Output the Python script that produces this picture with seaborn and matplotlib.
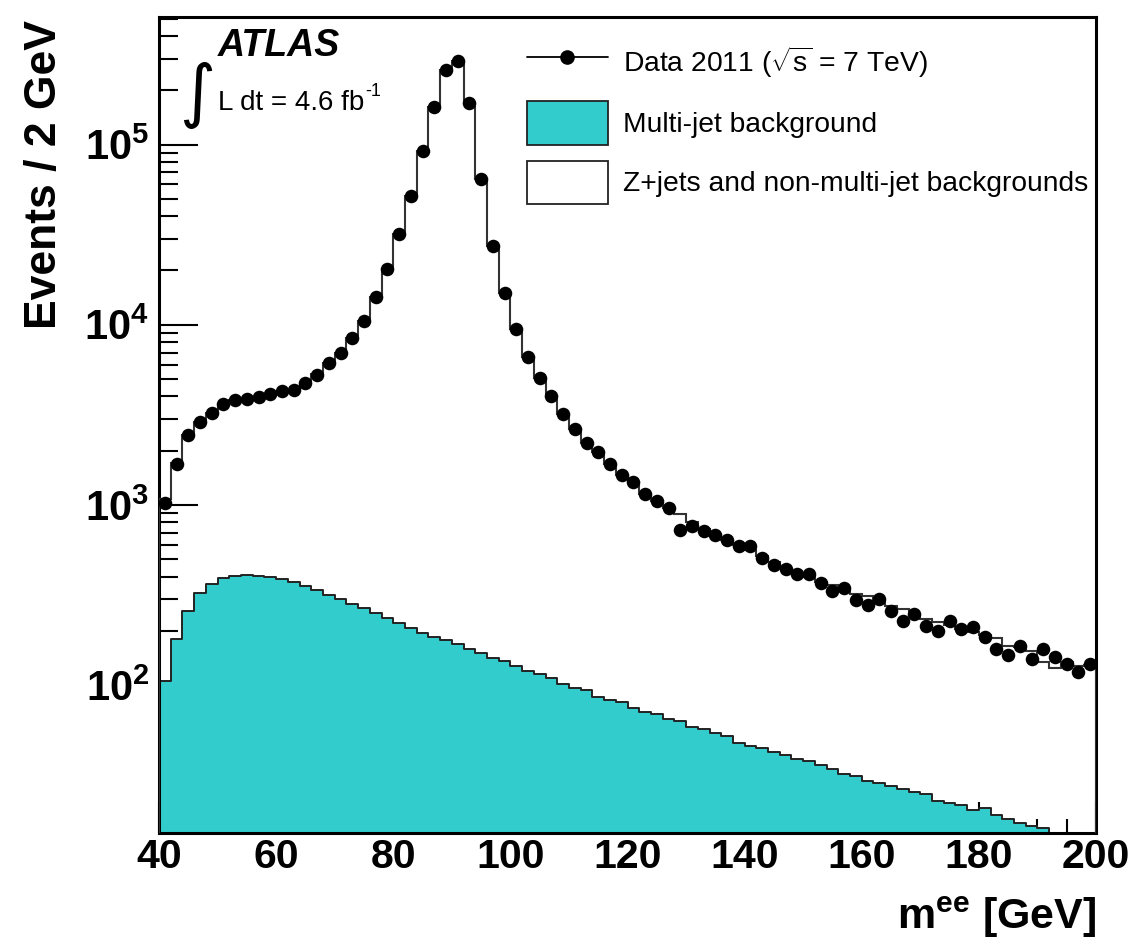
import numpy as np
import pandas as pd
import matplotlib
matplotlib.use("Agg")
import matplotlib.pyplot as plt
import seaborn as sns
from matplotlib.lines import Line2D
from matplotlib.patches import Patch
from matplotlib.ticker import MultipleLocator, LogLocator, FuncFormatter, NullFormatter

# 2 GeV bins from 40 to 200 GeV
bin_edges = np.arange(40, 202, 2)
mass = (bin_edges[:-1] + bin_edges[1:]) / 2

data_2011 = [
    1020, 1680, 2430, 2900, 3250, 3620, 3810, 3860, 3980, 4110,
    4270, 4330, 4780, 5290, 6100, 6930, 8400, 10500, 14200, 20300,
    32000, 52000, 91800, 162000, 259000, 290000, 169000, 64400, 27200, 15000,
    9420, 6640, 5040, 4010, 3210, 2650, 2200, 1960, 1690, 1460,
    1340, 1150, 1050, 964, 728, 768, 720, 684, 639, 589,
    589, 508, 464, 440, 412, 412, 368, 334, 346, 297,
    278, 301, 259, 228, 249, 214, 201, 228, 206, 210,
    186, 158, 147, 164, 140, 159, 144, 131, 119, 131,
]

mc_total = [
    1080, 1700, 2450, 2900, 3250, 3600, 3800, 3880, 3980, 4100,
    4250, 4350, 4750, 5300, 6100, 6950, 8400, 10500, 14200, 20300,
    32000, 52000, 91800, 162000, 259000, 290000, 169000, 64400, 27200, 15000,
    9420, 6640, 5040, 4010, 3210, 2650, 2200, 1960, 1690, 1460,
    1340, 1150, 1050, 964, 889, 800, 740, 690, 640, 600,
    565, 520, 480, 445, 420, 400, 375, 361, 340, 320,
    311, 290, 275, 265, 245, 232, 224, 215, 205, 197,
    190, 182, 166, 162, 155, 134, 125, 134, 128, 130,
]

multijet = [
    106, 180, 258, 323, 364, 391, 405, 410, 405, 400,
    386, 376, 356, 337, 317, 300, 284, 268, 250, 237,
    222, 209, 196, 186, 178, 169, 159, 150, 142, 136,
    128, 120, 115, 109, 102, 96, 93.5, 86, 82.3, 80.8,
    74.3, 71.2, 68.8, 65.3, 63.1, 58.5, 57.3, 54.4, 52.2, 47.9,
    45.9, 44.9, 42.7, 41.2, 39.2, 37.9, 36.3, 34.1, 32.2, 31.3,
    29.4, 28.7, 27.5, 26.7, 25.6, 24.9, 22.9, 22.2, 21.6, 20.2,
    20.7, 19.1, 18.0, 17.2, 16.5, 16.1, 14, 13, 12, 11,
]

df = pd.DataFrame({"mass": mass, "data": data_2011, "mc": mc_total, "multijet": multijet})

sns.set_theme(style="white")
plt.rcParams["font.family"] = ["Liberation Sans", "DejaVu Sans"]
plt.rcParams["mathtext.fontset"] = "custom"
plt.rcParams["mathtext.rm"] = "Liberation Sans"
plt.rcParams["mathtext.it"] = "Liberation Sans:italic"
plt.rcParams["mathtext.bf"] = "Liberation Sans:bold"
plt.rcParams["text.color"] = "black"
plt.rcParams["axes.labelcolor"] = "black"
plt.rcParams["xtick.color"] = "black"
plt.rcParams["ytick.color"] = "black"

cyan = "#33cccc"
edge = "#222222"

fig = plt.figure(figsize=(11.32, 9.43), dpi=100)
ax = fig.add_axes([0.1405, 0.1170, 0.8277, 0.8650])

# multi-jet background (filled step histogram)
sns.histplot(data=df, x="mass", weights="multijet", bins=len(mass), binrange=(40, 200),
             element="step", fill=True, color=cyan, alpha=1, edgecolor=edge,
             linewidth=1.4, ax=ax, zorder=2)

# total expectation outline
ax.stairs(df["mc"], bin_edges, color="#333333", linewidth=1.5, baseline=1, zorder=3)

# data points
sns.scatterplot(data=df, x="mass", y="data", color="black", s=95, edgecolor="black",
                linewidth=0, legend=False, ax=ax, zorder=5)

ax.set_yscale("log")
ax.set_xlim(40, 200)
ax.set_ylim(15.2, 5.1e5)

ax.xaxis.set_major_locator(MultipleLocator(20))
ax.xaxis.set_minor_locator(MultipleLocator(5))
ax.yaxis.set_major_locator(LogLocator(base=10, numticks=10))
ax.yaxis.set_minor_locator(LogLocator(base=10, subs=np.arange(2, 10), numticks=20))
ax.yaxis.set_major_formatter(FuncFormatter(lambda v, p: r"$\mathbf{10^{%d}}$" % round(np.log10(v))))
ax.yaxis.set_minor_formatter(NullFormatter())

ax.tick_params(which="both", direction="in", top=False, right=False, bottom=True, left=True, width=1.5)
ax.tick_params(axis="x", which="major", length=22, labelsize=29.5, pad=4)
ax.tick_params(axis="x", which="minor", length=10)
ax.tick_params(axis="y", which="major", length=28, labelsize=30, pad=7)
ax.tick_params(axis="y", which="minor", length=14)
for lab in ax.get_xticklabels():
    lab.set_fontweight("bold")

for sp in ax.spines.values():
    sp.set_linewidth(2.2)
    sp.set_color("black")

ax.set_xlabel(r"$\mathbf{m^{ee}}$ [GeV]", fontsize=31, fontweight="bold", loc="right")
ax.xaxis.set_label_coords(1.0, -0.076)
ax.set_ylabel("Events / 2 GeV", fontsize=32, fontweight="bold", loc="top")
ax.yaxis.set_label_coords(-0.100, 0.996)

# ATLAS label
ax.text(0.063, 0.987, "ATLAS", transform=ax.transAxes, fontsize=27, fontweight="bold",
        fontstyle="italic", va="top", ha="left")
ax.text(0.0213, 0.8805, "\u222b", transform=ax.transAxes, fontsize=50, family="DejaVu Sans",
        va="baseline", ha="left")
lumi = ax.text(0.063, 0.886, "L dt = 4.6 fb", transform=ax.transAxes,
               fontsize=20, va="baseline", ha="left")
ax.annotate("-1", xy=(1, 1), xycoords=lumi, xytext=(1, 5), textcoords="offset points",
            fontsize=13, va="top", ha="left")

handles = [
    Line2D([], [], color="black", marker="o", markersize=9.5, linewidth=1.3),
    Patch(facecolor=cyan, edgecolor=edge, linewidth=1.3),
    Patch(facecolor="white", edgecolor=edge, linewidth=1.3),
]
labels = [
    r"Data 2011 ($\sqrt{\mathregular{s}}$ = 7 TeV)",
    "Multi-jet background",
    "Z+jets and non-multi-jet backgrounds",
]
ax.legend(handles, labels, loc="upper left", bbox_to_anchor=(0.393, 0.970), fontsize=20.3,
          frameon=False, handlelength=2.85, handleheight=2.0, labelspacing=0.57,
          handletextpad=0.55, borderpad=0, borderaxespad=0)

fig.savefig("out.png", dpi=100)
